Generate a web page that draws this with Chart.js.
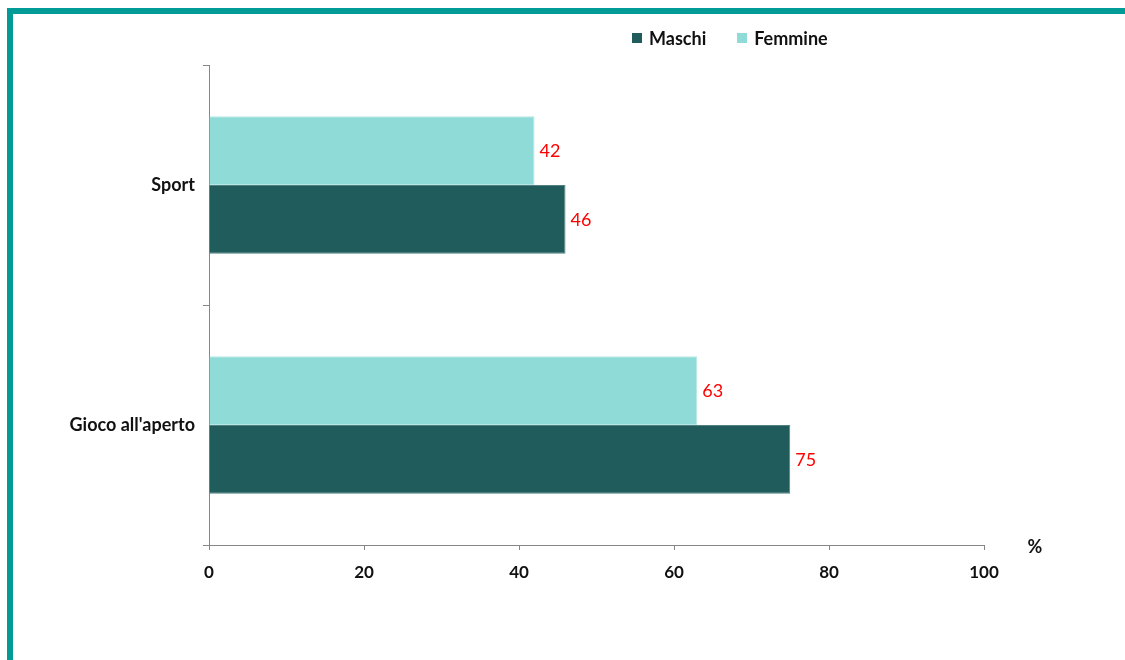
<!DOCTYPE html>
<html lang="it">
  <head>
    <meta charset="UTF-8" />
    <title>Maschi e Femmine - Sport e gioco all'aperto</title>
    <script src="https://cdn.jsdelivr.net/npm/chart.js"></script>
    <style>
      body {
        margin: 0;
        background: #ffffff;
        font-family: "Lato", "Open Sans", sans-serif;
      }

      .frame {
        position: absolute;
        left: 7px;
        top: 8px;
        width: 1112px;
        height: 646px;
        border-top: 6px solid #009a97;
        border-left: 6px solid #009a97;
      }

      .legend {
        position: absolute;
        left: 619px;
        top: 13px;
        display: flex;
        gap: 31px;
        font-weight: bold;
        font-size: 18px;
        color: #111;
      }

      .legend span {
        display: flex;
        align-items: center;
      }

      .legend i {
        display: inline-block;
        width: 10px;
        height: 10px;
        margin-right: 7px;
      }
    </style>
  </head>
  <body>
    <div class="frame">
      <canvas id="barChart" width="1112" height="646"></canvas>
      <div class="legend" id="legend"></div>
    </div>

    <script>
      // data
      const categories = ["Sport", "Gioco all'aperto"];
      const seriesNames = ["Maschi", "Femmine"];
      const maschi = [46, 75];
      const femmine = [42, 63];
      const xTicks = [0, 20, 40, 60, 80, 100];

      const colors = { Maschi: "#1f5c5b", Femmine: "#8fdbd8" };
      const axisGrey = "#868686";

      // html legend, Maschi first like the original
      const legend = document.getElementById("legend");
      seriesNames.forEach((name) => {
        const item = document.createElement("span");
        item.innerHTML = `<i style="background:${colors[name]}"></i>${name}`;
        legend.appendChild(item);
      });

      // red value next to each bar
      const barLabels = {
        id: "barLabels",
        afterDatasetsDraw(chart) {
          const ctx = chart.ctx;
          ctx.save();
          ctx.fillStyle = "#ff0000";
          ctx.font = "18px Lato";
          ctx.textAlign = "left";
          ctx.textBaseline = "middle";
          chart.data.datasets.forEach((ds, i) => {
            chart.getDatasetMeta(i).data.forEach((bar, j) => {
              ctx.fillText(ds.data[j], bar.x + 5, bar.y + 1);
            });
          });
          ctx.restore();
        },
      };

      // the "%" unit at the end of the x axis
      const unitLabel = {
        id: "unitLabel",
        afterDraw(chart) {
          const x = chart.scales.x;
          const ctx = chart.ctx;
          ctx.save();
          ctx.fillStyle = "#111";
          ctx.font = "bold 18px Lato";
          ctx.textAlign = "center";
          ctx.textBaseline = "middle";
          ctx.fillText("%", x.right + 51, x.top + 2);
          ctx.restore();
        },
      };

      function drawChart() {
        const ctx = document.getElementById("barChart").getContext("2d");
        new Chart(ctx, {
          type: "bar",
          data: {
            labels: categories,
            // Femmine first so it sits above Maschi in each group
            datasets: [
              {
                label: "Femmine",
                data: femmine,
                backgroundColor: colors.Femmine,
                borderColor: "#b5e8e6",
                borderWidth: 1,
                barPercentage: 1,
                categoryPercentage: 0.572,
              },
              {
                label: "Maschi",
                data: maschi,
                backgroundColor: colors.Maschi,
                borderColor: "#4e8180",
                borderWidth: 1,
                barPercentage: 1,
                categoryPercentage: 0.572,
              },
            ],
          },
          options: {
            indexAxis: "y",
            responsive: false,
            animation: false,
            layout: {
              padding: { top: 51, right: 141, left: 0, bottom: 0 },
            },
            plugins: {
              legend: { display: false },
              tooltip: { enabled: false },
            },
            scales: {
              x: {
                min: 0,
                max: 100,
                afterBuildTicks: (scale) => {
                  scale.ticks = xTicks.map((v) => ({ value: v }));
                },
                afterFit: (scale) => {
                  scale.height = 115;
                },
                grid: {
                  drawOnChartArea: false,
                  tickLength: 5,
                  color: axisGrey,
                },
                border: { color: axisGrey },
                ticks: {
                  color: "#111",
                  padding: 12,
                  font: { family: "Lato", size: 17, weight: "bold" },
                },
              },
              y: {
                afterFit: (scale) => {
                  scale.width = 196;
                },
                grid: {
                  drawOnChartArea: false,
                  offset: true,
                  tickLength: 6,
                  color: axisGrey,
                },
                border: { color: axisGrey },
                ticks: {
                  color: "#111",
                  padding: 8,
                  font: { family: "Lato", size: 18, weight: "bold" },
                },
              },
            },
          },
          plugins: [barLabels, unitLabel],
        });
      }

      Promise.all([
        document.fonts.load("18px Lato"),
        document.fonts.load("bold 18px Lato"),
      ]).then(drawChart, drawChart);
    </script>
  </body>
</html>
